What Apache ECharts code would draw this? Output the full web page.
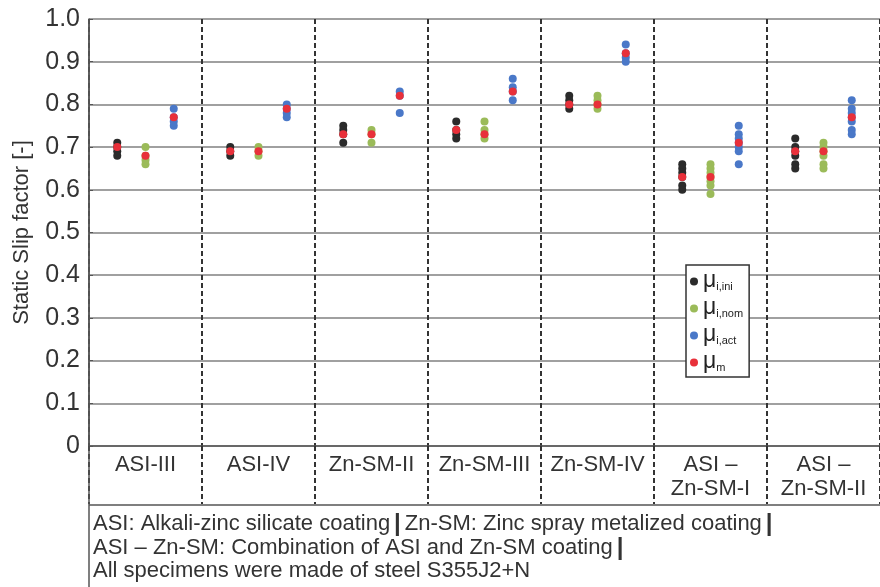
<!DOCTYPE html>
<html>
<head>
<meta charset="utf-8">
<title>Static slip factor</title>
<script src="https://cdn.jsdelivr.net/npm/echarts@6/dist/echarts.min.js"></script>
<style>
  html, body { margin: 0; padding: 0; background: #fff; }
  #main { width: 880px; height: 587px; }
</style>
</head>
<body>
<div id="main"></div>
<script>
// coatings (one group each)
var groups = ['ASI-III', 'ASI-IV', 'Zn-SM-II', 'Zn-SM-III', 'Zn-SM-IV', 'ASI –\nZn-SM-I', 'ASI –\nZn-SM-II'];

// single test values per group
var muIni = [
  [0.71, 0.70, 0.69, 0.68],
  [0.70, 0.69, 0.68],
  [0.75, 0.74, 0.73, 0.71],
  [0.76, 0.74, 0.73, 0.72],
  [0.82, 0.81, 0.80, 0.79],
  [0.66, 0.65, 0.64, 0.63, 0.61, 0.60],
  [0.72, 0.70, 0.69, 0.68, 0.66, 0.65]
];
var muNom = [
  [0.70, 0.68, 0.67, 0.66],
  [0.70, 0.69, 0.68],
  [0.74, 0.73, 0.71],
  [0.76, 0.74, 0.73, 0.72],
  [0.82, 0.81, 0.80, 0.79],
  [0.66, 0.65, 0.64, 0.63, 0.62, 0.61, 0.59],
  [0.71, 0.70, 0.69, 0.68, 0.66, 0.65]
];
var muAct = [
  [0.79, 0.77, 0.76, 0.75],
  [0.80, 0.79, 0.78, 0.77],
  [0.83, 0.82, 0.78],
  [0.86, 0.84, 0.83, 0.81],
  [0.94, 0.92, 0.91, 0.90],
  [0.75, 0.73, 0.72, 0.71, 0.70, 0.69, 0.66],
  [0.81, 0.79, 0.78, 0.77, 0.76, 0.74, 0.73]
];
// mean per group: [ini, nom, act]
var muMean = [
  [0.70, 0.68, 0.77],
  [0.69, 0.69, 0.79],
  [0.73, 0.73, 0.82],
  [0.74, 0.73, 0.83],
  [0.80, 0.80, 0.92],
  [0.63, 0.63, 0.71],
  [0.69, 0.69, 0.77]
];

var yTicks = ['0', '0.1', '0.2', '0.3', '0.4', '0.5', '0.6', '0.7', '0.8', '0.9', '1.0'];

var footnotes = [
  'ASI: Alkali-zinc silicate coating{b||}Zn-SM: Zinc spray metalized coating{b||}',
  'ASI – Zn-SM: Combination of ASI and Zn-SM coating{b||}',
  'All specimens were made of steel S355J2+N'
];

// column offsets inside a group: ini, nom, act
var offs = [0.25, 0.5, 0.75];

function pts(arr, k) {
  var out = [];
  arr.forEach(function (vals, g) {
    vals.forEach(function (v) { out.push([g + offs[k], v]); });
  });
  return out;
}
var meanPts = [];
muMean.forEach(function (vals, g) {
  vals.forEach(function (v, k) { meanPts.push([g + offs[k], v]); });
});

var labels = {
  ini: '{m|μ}{s|i,ini}',
  nom: '{m|μ}{s|i,nom}',
  act: '{m|μ}{s|i,act}',
  m: '{m|μ}{s|m}'
};

var FONT = '"Liberation Sans", Arial, sans-serif';
var chart = echarts.init(document.getElementById('main'));

chart.setOption({
  animation: false,
  backgroundColor: '#fff',
  textStyle: { fontFamily: FONT },
  grid: { left: 89, top: 19, width: 798, bottom: 141 },
  legend: {
    orient: 'vertical',
    left: 686,
    top: 265,
    padding: [4, 6, 4, 4],
    itemGap: 4,
    itemWidth: 8,
    itemHeight: 8,
    icon: 'circle',
    backgroundColor: '#fff',
    borderColor: '#333',
    borderWidth: 1.5,
    borderRadius: 0,
    data: ['ini', 'nom', 'act', 'm'],
    formatter: function (n) { return labels[n]; },
    textStyle: {
      color: '#222',
      rich: {
        m: { fontSize: 23, lineHeight: 21, verticalAlign: 'bottom', fontFamily: FONT },
        s: { fontSize: 11, lineHeight: 14, verticalAlign: 'bottom', fontFamily: FONT }
      }
    }
  },
  xAxis: [
    {
      type: 'value', min: 0, max: 7, interval: 1,
      axisLabel: { show: false },
      axisTick: { show: false },
      axisLine: { show: true, lineStyle: { color: '#555', width: 1.5 } },
      splitLine: { show: true, lineStyle: { color: '#333', width: 2, type: [5, 3] } }
    },
    {
      type: 'category', data: groups, position: 'bottom', boundaryGap: true,
      axisLine: { show: false },
      axisTick: { show: true, length: 58, lineStyle: { color: '#333', width: 2, type: [5, 3] } },
      axisLabel: {
        color: '#333', fontSize: 22, lineHeight: 24, margin: 7,
        verticalAlign: 'top', interval: 0, fontFamily: FONT
      }
    }
  ],
  yAxis: {
    type: 'value', min: 0, max: 1, interval: 0.1,
    name: 'Static Slip factor [-]',
    nameLocation: 'middle', nameRotate: 90, nameGap: 56,
    nameTextStyle: { fontSize: 22, color: '#333', fontFamily: FONT },
    axisLine: { show: true, lineStyle: { color: '#555', width: 1.5 } },
    axisTick: { show: true, inside: true, length: 4, lineStyle: { color: '#555' } },
    axisLabel: {
      color: '#333', fontSize: 25, margin: 9, fontFamily: FONT,
      formatter: function (v) { return yTicks[Math.round(v * 10)]; }
    },
    splitLine: { show: true, lineStyle: { color: '#808080', width: 1.5 } }
  },
  series: [
    { name: 'ini', type: 'scatter', symbolSize: 8, data: pts(muIni, 0), itemStyle: { color: '#2b2b2b', opacity: 1 }, z: 3 },
    { name: 'nom', type: 'scatter', symbolSize: 8, data: pts(muNom, 1), itemStyle: { color: '#9bbb59', opacity: 1 }, z: 3 },
    { name: 'act', type: 'scatter', symbolSize: 8, data: pts(muAct, 2), itemStyle: { color: '#4a78c8', opacity: 1 }, z: 3 },
    { name: 'm', type: 'scatter', symbolSize: 8, data: meanPts, itemStyle: { color: '#e8303a', opacity: 1 }, z: 4 }
  ],
  graphic: [
    { type: 'line', z: 100, shape: { x1: 89, y1: 19, x2: 89, y2: 587 }, style: { stroke: '#555', lineWidth: 1.5 } },
    { type: 'line', z: 100, shape: { x1: 89, y1: 505, x2: 880, y2: 505 }, style: { stroke: '#555', lineWidth: 1.5 } }
  ].concat(footnotes.map(function (t, i) {
    return {
      type: 'text', z: 100, left: 93, top: 512 + i * 24,
      style: {
        text: t, fontSize: 22, fill: '#333', fontFamily: FONT,
        rich: { b: { fontSize: 24, fontWeight: 'bold', fill: '#333', padding: [0, 4, 0, 4] } }
      }
    };
  }))
});
</script>
</body>
</html>
